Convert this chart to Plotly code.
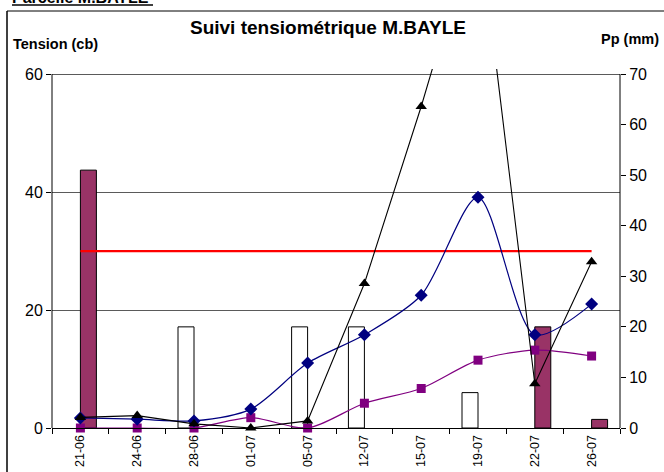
import plotly.graph_objects as go

# ---- data ----
dates = ["21-06", "24-06", "28-06", "01-07", "05-07", "12-07", "15-07", "19-07", "22-07", "26-07"]
tension_diamond = [1.7, 1.5, 1.2, 3.2, 11.0, 15.8, 22.5, 39.1, 15.8, 21.0]
tension_square = [0, 0, 0, 1.75, 0, 4.2, 6.7, 11.5, 13.2, 12.2]
tension_triangle = [1.8, 2.1, 0.7, 0, 1.2, 24.5, 54.5, 87, 7.5, 28.2]
seuil = [30, 30, 30, 30, 30, 30, 30, 30, 30, 30]
irrigation_mm = [None, None, 20, None, 20, 20, None, 7, None, None]
pluie_mm = [51, None, None, None, None, None, None, None, 20, 1.7]
left_ticks = [0, 20, 40, 60]
right_ticks = [0, 10, 20, 30, 40, 50, 60, 70]

FONT = "Arial, 'Liberation Sans', sans-serif"

# plot area in pixels: left 52, right 620, top 69, bottom 428
L, R, T, B = 52, 620, 69, 428
W, H = R - L, B - T


def px(x):
    return (x - L) / W


def py(y):
    return 1 - (y - T) / H


fig = go.Figure()

fig.add_trace(go.Bar(x=dates, y=irrigation_mm, yaxis="y",
                     marker=dict(color="white", line=dict(color="black", width=1))))
fig.add_trace(go.Bar(x=dates, y=pluie_mm, yaxis="y",
                     marker=dict(color="#993366", line=dict(color="black", width=1))))

fig.add_trace(go.Scatter(x=dates, y=seuil, yaxis="y2", mode="lines",
                         line=dict(color="#ff0000", width=2.2), cliponaxis=False))
fig.add_trace(go.Scatter(x=dates, y=tension_square, yaxis="y2", mode="lines+markers",
                         line=dict(color="#800080", width=1.2, shape="spline", smoothing=0.8),
                         marker=dict(symbol="square", size=9, color="#800080"),
                         cliponaxis=False))
fig.add_trace(go.Scatter(x=dates, y=tension_diamond, yaxis="y2", mode="lines+markers",
                         line=dict(color="#000080", width=1.2, shape="spline", smoothing=0.8),
                         marker=dict(symbol="diamond", size=10, color="#000080"),
                         cliponaxis=False))
fig.add_trace(go.Scatter(x=dates, y=tension_triangle, yaxis="y2", mode="lines+markers",
                         line=dict(color="black", width=1.1),
                         marker=dict(symbol="triangle-up", size=10, color="black"),
                         cliponaxis=False))

shapes = [
    # left and right axis lines (0..60 on the tension scale)
    dict(type="line", xref="paper", yref="y2", x0=0, x1=0, y0=0, y1=60,
         line=dict(color="black", width=1)),
    dict(type="line", xref="paper", yref="y2", x0=1, x1=1, y0=0, y1=60,
         line=dict(color="black", width=1)),
    # outer frame
    dict(type="line", xref="paper", yref="paper", x0=px(7), x1=px(7), y0=py(11), y1=py(480),
         line=dict(color="#404040", width=2)),
    dict(type="line", xref="paper", yref="paper", x0=px(7), x1=px(670), y0=py(11), y1=py(11),
         line=dict(color="black", width=1)),
    # underline of the clipped header
    dict(type="line", xref="paper", yref="paper", x0=px(12), x1=px(153), y0=py(5), y1=py(5),
         line=dict(color="black", width=1.5)),
]

annotations = [
    dict(text="<b>Parcelle M.BAYLE</b>", xref="paper", yref="paper", x=px(10), y=py(-2),
         xanchor="left", yanchor="middle", showarrow=False,
         font=dict(family=FONT, size=16, color="black")),
    dict(text="<b>Suivi tensiométrique M.BAYLE</b>", xref="paper", yref="paper",
         x=px(328), y=py(28), xanchor="center", yanchor="middle", showarrow=False,
         font=dict(family=FONT, size=19, color="black")),
    dict(text="<b>Tension (cb)</b>", xref="paper", yref="paper", x=px(11), y=py(44),
         xanchor="left", yanchor="middle", showarrow=False,
         font=dict(family=FONT, size=14.5, color="black")),
    dict(text="<b>Pp (mm)</b>", xref="paper", yref="paper", x=px(661), y=py(39),
         xanchor="right", yanchor="middle", showarrow=False,
         font=dict(family=FONT, size=14.5, color="black")),
]

fig.update_layout(
    width=664, height=472,
    margin=dict(l=L, r=664 - R, t=T, b=472 - B, pad=0, autoexpand=False),
    paper_bgcolor="white", plot_bgcolor="white",
    showlegend=False,
    barmode="group", bargap=0.437, bargroupgap=0,
    font=dict(family=FONT, color="black"),
    xaxis=dict(type="category", range=[-0.5, 9.5], showline=True, linecolor="black",
               linewidth=1, ticks="outside", tickson="boundaries", ticklen=5,
               tickcolor="black", tickangle=-90, showgrid=False, ticklabelstandoff=1,
               automargin=False,
               tickfont=dict(family=FONT, size=12.5, color="black")),
    yaxis=dict(side="right", range=[0, 70 * 60.857 / 60], tickvals=right_ticks,
               ticks="outside", ticklen=5, tickcolor="black", showgrid=False,
               zeroline=False, showline=False, automargin=False,
               tickfont=dict(family=FONT, size=16, color="black")),
    yaxis2=dict(side="left", overlaying="y", range=[0, 60.857], tickvals=left_ticks,
                ticks="outside", ticklen=5, tickcolor="black", showgrid=True,
                gridcolor="#5a5a5a", gridwidth=1, zeroline=False, showline=False,
                automargin=False,
                tickfont=dict(family=FONT, size=16, color="black")),
    shapes=shapes,
    annotations=annotations,
)

fig.write_html("out.html", config={"displayModeBar": False},
               post_script="document.body.style.margin='0';document.body.style.overflow='hidden';")
